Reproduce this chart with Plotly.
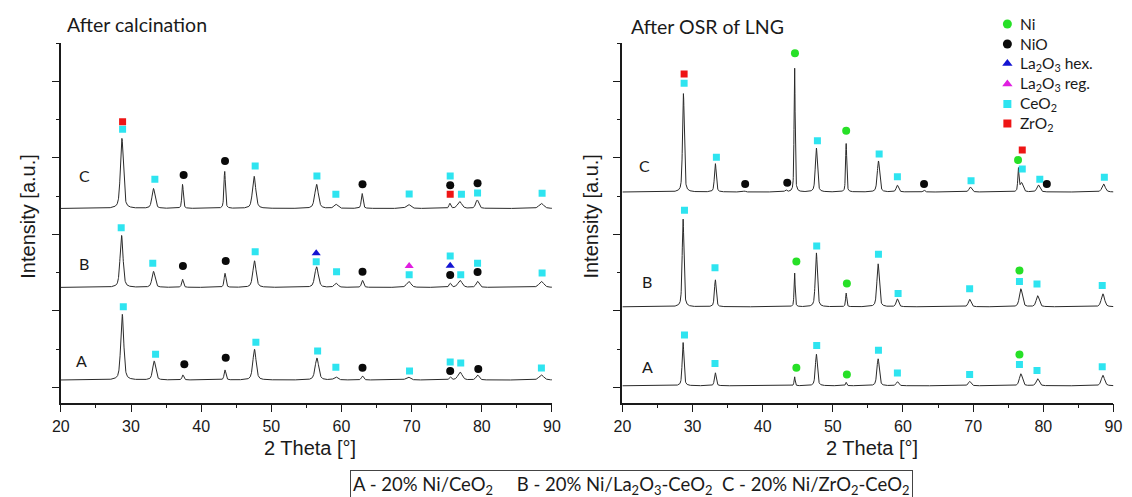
import numpy as np
import plotly.graph_objects as go

W, H = 1132, 497

# ---------------- diffraction patterns (peak tables) ----------------
# 2-theta grid
TWO_THETA = np.arange(20.0, 90.0001, 0.02)

# After calcination
CALC_A_BASE = 593
CALC_A_POS = [28.75, 33.3, 37.4, 43.4, 47.6, 56.5, 59.2, 63.0, 69.5, 75.5, 76.9, 79.4, 88.5]
CALC_A_HT = [1717, 496, 131, 261, 802, 575, 78, 105, 78, 78, 209, 131, 131]
CALC_A_FW = [0.5, 0.5, 0.3, 0.3, 0.55, 0.6, 0.6, 0.35, 0.7, 0.35, 0.7, 0.5, 0.8]

CALC_B_BASE = 3013
CALC_B_POS = [28.65, 33.2, 37.35, 43.4, 47.6, 56.45, 59.25, 63.0, 69.6, 75.5, 76.9, 79.4, 88.5]
CALC_B_HT = [1359, 418, 209, 366, 695, 538, 105, 183, 157, 105, 183, 157, 157]
CALC_B_FW = [0.5, 0.5, 0.3, 0.3, 0.55, 0.6, 0.6, 0.35, 0.7, 0.35, 0.7, 0.5, 0.8]

CALC_C_BASE = 5076
CALC_C_POS = [28.7, 33.2, 37.35, 43.35, 47.55, 56.45, 59.2, 62.95, 69.55, 75.45, 76.85, 79.35, 88.5]
CALC_C_HT = [1830, 520, 630, 970, 840, 630, 105, 390, 105, 130, 180, 220, 130]
CALC_C_FW = [0.5, 0.5, 0.25, 0.25, 0.55, 0.6, 0.6, 0.3, 0.7, 0.3, 0.7, 0.5, 0.8]

# After OSR of LNG
OSR_A_BASE = 442
OSR_A_POS = [28.65, 33.25, 44.55, 47.65, 51.9, 56.45, 59.2, 69.5, 76.8, 79.2, 88.5]
OSR_A_HT = [1134, 340, 235, 826, 89, 706, 105, 115, 314, 183, 274]
OSR_A_FW = [0.3, 0.3, 0.18, 0.35, 0.2, 0.4, 0.4, 0.45, 0.5, 0.5, 0.55]

OSR_B_BASE = 2506
OSR_B_POS = [28.65, 33.25, 44.55, 47.65, 51.9, 56.45, 59.2, 69.5, 76.8, 79.2, 88.5]
OSR_B_HT = [2299, 706, 888, 1411, 355, 1124, 204, 196, 470, 287, 340]
OSR_B_FW = [0.3, 0.3, 0.18, 0.35, 0.2, 0.4, 0.4, 0.45, 0.5, 0.5, 0.55]

OSR_C_BASE = 5506
OSR_C_POS = [28.7, 33.25, 37.4, 43.3, 44.55, 47.65, 51.9, 56.5, 59.2, 63.0, 69.6, 76.45, 76.9, 79.3, 88.6]
OSR_C_HT = [2571, 742, 26, 52, 3266, 1150, 1265, 810, 175, 52, 131, 601, 235, 183, 209]
OSR_C_FW = [0.3, 0.3, 0.3, 0.3, 0.18, 0.35, 0.2, 0.4, 0.4, 0.3, 0.45, 0.2, 0.5, 0.5, 0.55]

# ---------------- phase markers: (2-theta, intensity) ----------------
CALC_C_MARKS = {
    "CeO2": ([28.8, 33.4, 47.7, 56.5, 59.2, 69.65, 75.5, 77.1, 79.4, 88.6],
             [7144, 5837, 6185, 5924, 5446, 5453, 5924, 5446, 5480, 5472]),
    "ZrO2": ([28.8, 75.5], [7343, 5446]),
    "NiO": ([37.5, 43.4, 63.0, 75.5, 79.4], [5950, 6316, 5707, 5681, 5733]),
}
CALC_B_MARKS = {
    "CeO2": ([28.6, 33.1, 47.7, 56.4, 59.3, 69.65, 75.5, 77.0, 79.4, 88.6],
             [4573, 3643, 3946, 3684, 3423, 3345, 3833, 3345, 3643, 3389]),
    "NiO": ([37.4, 43.5, 63.0, 75.5, 79.4], [3572, 3703, 3423, 3337, 3415]),
    "La2O3 hex": ([56.4, 75.5], [3904, 3580]),
    "La2O3 reg": ([69.65], [3572]),
}
CALC_A_MARKS = {
    "CeO2": ([28.9, 33.5, 47.8, 56.6, 59.2, 69.7, 75.5, 77.0, 88.5],
             [2508, 1265, 1578, 1351, 925, 828, 1063, 1037, 907]),
    "NiO": ([37.6, 43.5, 63.0, 75.5, 79.5], [1003, 1176, 915, 828, 881]),
}
OSR_C_MARKS = {
    "CeO2": ([28.8, 33.4, 47.8, 56.6, 59.2, 69.7, 77.0, 79.5, 88.7],
             [8346, 6412, 6846, 6499, 5905, 5801, 6107, 5837, 5890]),
    "ZrO2": ([28.8, 77.0], [8589, 6603]),
    "NiO": ([37.5, 43.5, 63.0, 80.5], [5715, 5749, 5715, 5715]),
    "Ni": ([44.6, 51.9, 76.4], [9130, 7107, 6342]),
}
OSR_B_MARKS = {
    "CeO2": ([28.85, 33.2, 47.7, 56.5, 59.3, 69.5, 76.6, 79.1, 88.4],
             [5030, 3525, 4092, 3880, 2851, 2976, 3170, 3102, 3065]),
    "Ni": ([44.8, 52.0, 76.6], [3692, 3117, 3454]),
}
OSR_A_MARKS = {
    "CeO2": ([28.85, 33.2, 47.7, 56.5, 59.2, 69.5, 76.6, 79.1, 88.4],
             [1769, 1027, 1497, 1372, 779, 734, 1001, 841, 938]),
    "Ni": ([44.8, 52.0, 76.6], [912, 734, 1257]),
}

# phase symbols and colours
PHASES = ["Ni", "NiO", "La2O3 hex", "La2O3 reg", "CeO2", "ZrO2"]
PHASE_LABELS = ["Ni", "NiO", "La<sub>2</sub>O<sub>3</sub> hex.", "La<sub>2</sub>O<sub>3</sub> reg.",
                "CeO<sub>2</sub>", "ZrO<sub>2</sub>"]
PHASE_STYLE = {
    "Ni": dict(symbol="circle", color="#27e027", size=8),
    "NiO": dict(symbol="circle", color="#0a0a0a", size=8),
    "La2O3 hex": dict(symbol="triangle-up", color="#1414d2", size=8),
    "La2O3 reg": dict(symbol="triangle-up", color="#e01ee0", size=8),
    "CeO2": dict(symbol="square", color="#2ee4f0", size=7),
    "ZrO2": dict(symbol="square", color="#ee1515", size=7),
}

SAMPLE_LABELS = ["A", "B", "C"]
CALC_LABEL_POS = ([23.0, 23.3, 23.4], [1090, 3643, 5950])
OSR_LABEL_POS = ([23.6, 23.5, 23.2], [959, 3170, 6211])

LEGEND_ROWS_Y = [24, 44, 63.5, 84, 104, 123.5]

CAPTION = ("A - 20% Ni/CeO<sub>2</sub>\u00a0\u00a0\u00a0\u00a0 B - 20% Ni/La<sub>2</sub>O<sub>3</sub>-CeO<sub>2</sub>"
           "\u00a0\u00a0C - 20% Ni/ZrO<sub>2</sub>-CeO<sub>2</sub>")


def pattern(base, pos, hts, fws, eta=0.5):
    y = np.full_like(TWO_THETA, float(base))
    for p, h, w in zip(pos, hts, fws):
        d = (TWO_THETA - p) / w
        lor = 1.0 / (1.0 + 4.0 * d * d)
        gau = np.exp(-4.0 * np.log(2.0) * d * d)
        y += h * (eta * lor + (1 - eta) * gau)
    return y


# ---------------- layout geometry (pixels) ----------------
X_LEFT = (52.7, 551.7)
X_RIGHT = (623.3, 1122.3)
Y_TOP, Y_BOT = 43.0, 402.7


def px(v):
    return v / W


def py(v):
    return 1 - v / H


SANS = "Liberation Sans, Arial, sans-serif"
HUM = "Lato, Open Sans, sans-serif"
INK = "#1a1a1a"

fig = go.Figure()

panels = [
    ("x", "y", [(CALC_A_BASE, CALC_A_POS, CALC_A_HT, CALC_A_FW),
                (CALC_B_BASE, CALC_B_POS, CALC_B_HT, CALC_B_FW),
                (CALC_C_BASE, CALC_C_POS, CALC_C_HT, CALC_C_FW)],
     [CALC_A_MARKS, CALC_B_MARKS, CALC_C_MARKS], CALC_LABEL_POS),
    ("x2", "y2", [(OSR_A_BASE, OSR_A_POS, OSR_A_HT, OSR_A_FW),
                  (OSR_B_BASE, OSR_B_POS, OSR_B_HT, OSR_B_FW),
                  (OSR_C_BASE, OSR_C_POS, OSR_C_HT, OSR_C_FW)],
     [OSR_A_MARKS, OSR_B_MARKS, OSR_C_MARKS], OSR_LABEL_POS),
]

annotations = []
for xa, ya, curves, marks, lab in panels:
    for base, pos, hts, fws in curves:
        fig.add_trace(go.Scatter(x=TWO_THETA, y=pattern(base, pos, hts, fws), mode="lines",
                                 line=dict(color="#2a2a2a", width=1), xaxis=xa, yaxis=ya,
                                 showlegend=False, hoverinfo="skip"))
    for mk in marks:
        for phase, (mx, my) in mk.items():
            st = PHASE_STYLE[phase]
            fig.add_trace(go.Scatter(x=mx, y=my, mode="markers", xaxis=xa, yaxis=ya,
                                     marker=dict(symbol=st["symbol"], color=st["color"], size=st["size"],
                                                 line=dict(width=0)),
                                     showlegend=False, name=phase))
    for t, lx, ly in zip(SAMPLE_LABELS, lab[0], lab[1]):
        annotations.append(dict(x=lx, y=ly, xref=xa, yref=ya, text=t, showarrow=False,
                                font=dict(family=HUM, size=16, color=INK)))

# legend drawn on a full-page pixel overlay
for i, ph in enumerate(PHASES):
    st = PHASE_STYLE[ph]
    fig.add_trace(go.Scatter(x=[1014.5], y=[LEGEND_ROWS_Y[i]], mode="markers", xaxis="x3", yaxis="y3",
                             marker=dict(symbol=st["symbol"], color=st["color"], size=st["size"] + 1,
                                         line=dict(width=0)),
                             showlegend=False, hoverinfo="skip"))
    annotations.append(dict(x=1025, y=LEGEND_ROWS_Y[i], xref="x3", yref="y3", text=PHASE_LABELS[i],
                            xanchor="left", yanchor="middle", showarrow=False,
                            font=dict(family=HUM, size=15.5, color=INK)))

# panel titles
annotations.append(dict(x=57, y=24, xref="x3", yref="y3", text="After calcination", xanchor="left",
                        yanchor="middle", showarrow=False, font=dict(family=HUM, size=19.5, color=INK)))
annotations.append(dict(x=630, y=26, xref="x3", yref="y3", text="After OSR of LNG", xanchor="left",
                        yanchor="middle", showarrow=False, font=dict(family=HUM, size=19.5, color=INK)))

# axis titles
for xr in (X_LEFT, X_RIGHT):
    annotations.append(dict(x=(xr[0] + xr[1]) / 2 + 4, y=448, xref="x3", yref="y3", text="2 Theta [°]",
                            showarrow=False, font=dict(family=SANS, size=20, color=INK)))
for yx in (19, 591):
    annotations.append(dict(x=yx, y=216, xref="x3", yref="y3", text="Intensity [a.u.]", textangle=-90,
                            showarrow=False, font=dict(family=SANS, size=20, color=INK)))

# caption box
annotations.append(dict(x=633, y=485, xref="x3", yref="y3", text=CAPTION, showarrow=False,
                        xanchor="center", yanchor="middle", bordercolor="#444", borderwidth=1, borderpad=2,
                        bgcolor="white", font=dict(family=HUM, size=18.5, color=INK)))

xcommon = dict(range=[20, 90], showline=True, linecolor=INK, linewidth=1.5, ticks="outside",
               tickmode="linear", tick0=20, dtick=10, ticklen=8, tickwidth=1.3, tickcolor=INK,
               minor=dict(ticks="outside", dtick=5, tick0=20, ticklen=4, tickwidth=1.3, tickcolor=INK),
               showgrid=False, zeroline=False, tickfont=dict(family=SANS, size=16, color=INK))
ycommon = dict(range=[0, 9400], showline=True, linecolor=INK, linewidth=1.5, ticks="outside",
               tickmode="linear", tick0=400, dtick=2000, ticklen=7.5, tickwidth=1.3, tickcolor=INK,
               minor=dict(ticks="outside", dtick=1000, tick0=400, ticklen=3.5, tickwidth=1.3, tickcolor=INK),
               showgrid=False, zeroline=False, showticklabels=False)

fig.update_layout(
    width=W, height=H, margin=dict(l=0, r=0, t=0, b=0),
    paper_bgcolor="white", plot_bgcolor="rgba(0,0,0,0)", showlegend=False,
    xaxis=dict(domain=[px(X_LEFT[0]), px(X_LEFT[1])], anchor="y", **xcommon),
    yaxis=dict(domain=[py(Y_BOT), py(Y_TOP)], anchor="x", **ycommon),
    xaxis2=dict(domain=[px(X_RIGHT[0]), px(X_RIGHT[1])], anchor="y2", **xcommon),
    yaxis2=dict(domain=[py(Y_BOT), py(Y_TOP)], anchor="x2", **ycommon),
    xaxis3=dict(domain=[0, 1], range=[0, W], visible=False, anchor="y3", fixedrange=True),
    yaxis3=dict(domain=[0, 1], range=[H, 0], visible=False, anchor="x3", fixedrange=True),
    annotations=annotations,
)

fig.write_html("out.html")
